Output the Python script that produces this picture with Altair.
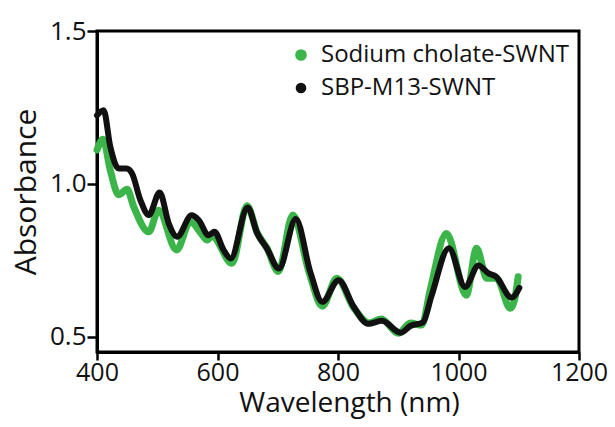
import altair as alt
import pandas as pd

series_names = ["Sodium cholate-SWNT", "SBP-M13-SWNT"]
series_colors = ["#3bb54a", "#111111"]

green_wl = [400, 410, 422, 436, 450, 461, 486, 502, 532, 555, 572, 583, 591, 624, 649, 666, 682, 701, 725, 752, 774, 798, 826, 852, 872, 900, 920, 939, 953, 980, 1013, 1030, 1047, 1063, 1086, 1093, 1099]
green_abs = [1.111, 1.146, 1.045, 0.964, 0.982, 0.925, 0.843, 0.914, 0.784, 0.876, 0.840, 0.816, 0.829, 0.740, 0.928, 0.840, 0.790, 0.713, 0.898, 0.710, 0.600, 0.691, 0.595, 0.545, 0.558, 0.511, 0.545, 0.538, 0.653, 0.838, 0.636, 0.789, 0.691, 0.691, 0.593, 0.620, 0.696]

black_wl = [400, 411, 422, 436, 449, 458, 472, 486, 504, 519, 533, 557, 569, 585, 595, 610, 622, 650, 666, 682, 702, 730, 754, 774, 801, 826, 850, 873, 904, 920, 941, 955, 984, 1011, 1033, 1050, 1062, 1088, 1101]
black_abs = [1.224, 1.241, 1.122, 1.050, 1.050, 1.035, 0.947, 0.898, 0.972, 0.871, 0.827, 0.897, 0.881, 0.832, 0.843, 0.784, 0.756, 0.923, 0.838, 0.789, 0.723, 0.885, 0.712, 0.614, 0.685, 0.598, 0.542, 0.552, 0.513, 0.535, 0.547, 0.632, 0.789, 0.663, 0.733, 0.707, 0.697, 0.628, 0.660]

x_ticks = [400, 600, 800, 1000, 1200]
y_ticks = [0.5, 1.0, 1.5]

rows = []
for i, (w, a) in enumerate(zip(green_wl, green_abs)):
    rows.append({"wl": w, "abs": a, "series": series_names[0], "ord": i})
for i, (w, a) in enumerate(zip(black_wl, black_abs)):
    rows.append({"wl": w, "abs": a, "series": series_names[1], "ord": i})
df = pd.DataFrame(rows)

FONT = "Open Sans"

x_enc = alt.X("wl:Q", scale=alt.Scale(domain=[400, 1200], nice=False),
              axis=alt.Axis(values=x_ticks, title="Wavelength (nm)", format="d",
                            labelFlush=False, labelPadding=0, labelFontSize=25, tickSize=8,
                            titleX=252, titlePadding=4, titleFontSize=28))
y_enc = alt.Y("abs:Q", scale=alt.Scale(domain=[0.45, 1.5], nice=False, zero=False),
              axis=alt.Axis(values=y_ticks, title="Absorbance", format=".1f", titlePadding=8))
color_enc = alt.Color("series:N", scale=alt.Scale(domain=series_names, range=series_colors),
                      legend=alt.Legend(title=None, orient="none", legendX=192, legendY=12,
                                        symbolType="circle", symbolSize=22, symbolOpacity=1,
                                        symbolStrokeWidth=0,
                                        labelFontSize=24, labelFont=FONT, labelColor="#111111",
                                        labelLimit=0, labelOffset=8, rowPadding=1))

points = alt.Chart(df).mark_point(filled=True, opacity=0, size=1).encode(
    x=x_enc, y=y_enc, color=color_enc
)

lines = alt.Chart(df).mark_line(interpolate="monotone", strokeCap="round", strokeJoin="round").encode(
    x=x_enc, y=y_enc, color=color_enc,
    strokeWidth=alt.StrokeWidth("series:N", scale=alt.Scale(domain=series_names, range=[7, 6]), legend=None),
    order="ord:Q",
)

chart = alt.layer(points, lines).properties(
    width=482, height=321,
    autosize=alt.AutoSizeParams(type="none"),
    padding={"left": 97, "top": 31, "right": 36, "bottom": 75},
).configure_view(
    stroke="black", strokeWidth=3
).configure_axis(
    grid=False, domainColor="black", domainWidth=3, tickColor="black", tickWidth=2.5,
    tickSize=10, labelFont=FONT, labelFontSize=26, labelColor="#111111", labelPadding=1,
    titleFont=FONT, titleFontSize=30, titleFontWeight="normal", titleColor="#111111"
)

chart.save("out.html", embed_options={"renderer": "svg", "actions": False})
